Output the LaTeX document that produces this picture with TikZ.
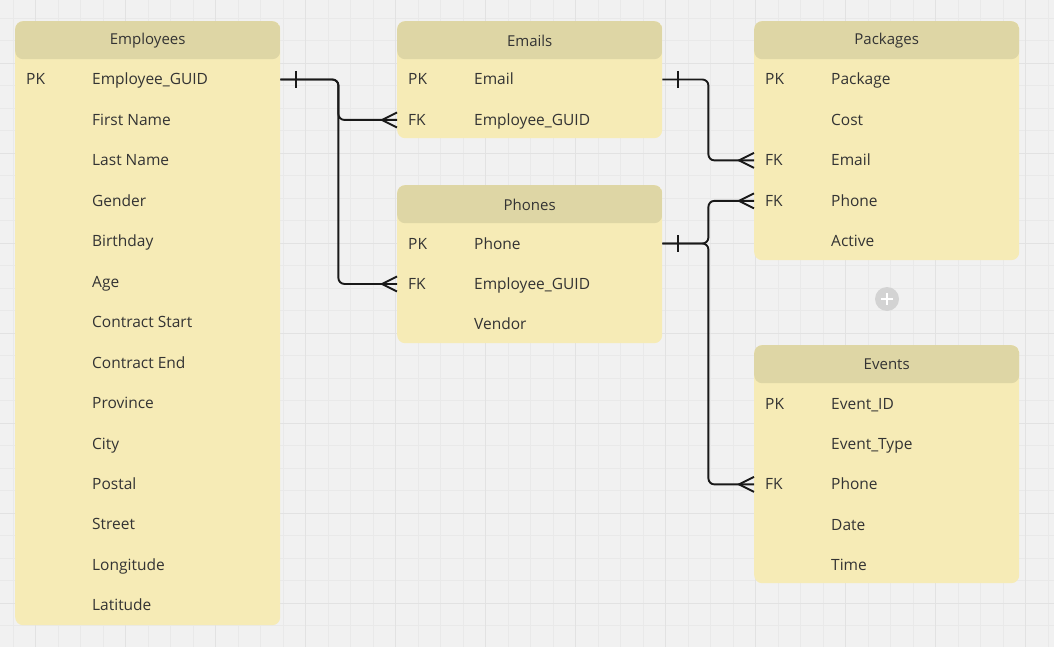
\documentclass[tikz,border=0pt]{standalone}
\usepackage{fontspec}
\setmainfont{Open Sans}
\usetikzlibrary{positioning}

\definecolor{canvas}{HTML}{F1F1F1}
\definecolor{gridminor}{HTML}{E9E9E9}
\definecolor{gridmajor}{HTML}{E2E2E2}
\definecolor{tblbody}{HTML}{F6EBB6}
\definecolor{tblhead}{HTML}{DED6A5}
\definecolor{ink}{HTML}{333333}
\definecolor{plusgrey}{HTML}{D3D3D3}

\begin{document}
\begin{tikzpicture}[x=1pt,y=-1pt,
  every node/.style={font=\fontsize{15.5}{18}\selectfont, text=ink},
  tbl/.style={fill=tblbody, rounded corners=8pt, minimum width=265pt, anchor=north west, inner sep=0pt,
    path picture={\fill[tblhead] (path picture bounding box.north west) rectangle ([yshift=-38pt]path picture bounding box.north east);}},
  title/.style={font=\fontsize{15}{18}\selectfont},
  attr/.style={anchor=west, inner sep=0pt, text height=11pt, text depth=0pt},
  conn/.style={draw=black!90, line width=1.9pt, rounded corners=6pt},
  one/.pic={\draw[conn] (0,-8.5) -- (0,8.5);},
  many/.pic={\draw[conn, rounded corners=0pt] (0,-7.5) -- (-15,0) -- (0,7.5);}
  ]
  \useasboundingbox (0,0) rectangle (1054,647);
  \fill[canvas] (0,0) rectangle (1054,647);
  % grid
  \foreach \gx in {13,35.5,...,1054} \draw[gridminor, line width=0.7pt] (\gx,0) -- (\gx,647);
  \foreach \gy in {18,40.5,...,647} \draw[gridminor, line width=0.7pt] (0,\gy) -- (1054,\gy);
  \foreach \gx in {35.5,125.5,...,1054} \draw[gridmajor, line width=0.9pt] (\gx,0) -- (\gx,647);
  \foreach \gy in {63,153,...,647} \draw[gridmajor, line width=0.9pt] (0,\gy) -- (1054,\gy);

  % tables
  \node[tbl, minimum height=604pt] (emp) at (15,21) {};
  \node[tbl, minimum height=117pt] (eml) at (397,21) {};
  \node[tbl, minimum height=158pt] (phn) at (397,185) {};
  \node[tbl, minimum height=239pt] (pkg) at (754,21) {};
  \node[tbl, minimum height=238pt] (evt) at (754,345) {};

  \node[title] at ([yshift=-19.5pt]emp.north) {Employees};
  \node[title] at ([yshift=-19.5pt]eml.north) {Emails};
  \node[title] at ([yshift=-19.5pt]phn.north) {Phones};
  \node[title] at ([yshift=-19.5pt]pkg.north) {Packages};
  \node[title] at ([yshift=-19.5pt]evt.north) {Events};

  \foreach \a [count=\i from 0] in {Employee\_GUID, First Name, Last Name, Gender, Birthday, Age,
      Contract Start, Contract End, Province, City, Postal, Street, Longitude, Latitude}
    \node[attr] (emp-\i) at ([xshift=77pt,yshift={-58.5pt-\i*40.45pt}]emp.north west) {\a};
  \foreach \a [count=\i from 0] in {Email, Employee\_GUID}
    \node[attr] (eml-\i) at ([xshift=77pt,yshift={-58.5pt-\i*40.45pt}]eml.north west) {\a};
  \foreach \a [count=\i from 0] in {Phone, Employee\_GUID, Vendor}
    \node[attr] (phn-\i) at ([xshift=77pt,yshift={-58.5pt-\i*40.45pt}]phn.north west) {\a};
  \foreach \a [count=\i from 0] in {Package, Cost, Email, Phone, Active}
    \node[attr] (pkg-\i) at ([xshift=77pt,yshift={-58.5pt-\i*40.45pt}]pkg.north west) {\a};
  \foreach \a [count=\i from 0] in {Event\_ID, Event\_Type, Phone, Date, Time}
    \node[attr] (evt-\i) at ([xshift=77pt,yshift={-58.5pt-\i*40.45pt}]evt.north west) {\a};

  % keys
  \node[attr, xshift=11pt] at (emp-0 -| emp.west) {PK};
  \node[attr, xshift=11pt] at (eml-0 -| eml.west) {PK};
  \node[attr, xshift=11pt] at (eml-1 -| eml.west) {FK};
  \node[attr, xshift=11pt] at (phn-0 -| phn.west) {PK};
  \node[attr, xshift=11pt] at (phn-1 -| phn.west) {FK};
  \node[attr, xshift=11pt] at (pkg-0 -| pkg.west) {PK};
  \node[attr, xshift=11pt] at (pkg-2 -| pkg.west) {FK};
  \node[attr, xshift=11pt] at (pkg-3 -| pkg.west) {FK};
  \node[attr, xshift=11pt] at (evt-0 -| evt.west) {PK};
  \node[attr, xshift=11pt] at (evt-2 -| evt.west) {FK};

  % relations
  \draw[conn] (emp-0 -| emp.east) -- ++(58,0) |- (eml-1 -| eml.west);
  \draw[conn] (emp-0 -| emp.east) -- ++(58,0) |- (phn-1 -| phn.west);
  \draw[conn] (eml-0 -| eml.east) -- ++(46,0) |- (pkg-2 -| pkg.west);
  \draw[conn] (phn-0 -| phn.east) -- ++(46,0) |- (pkg-3 -| pkg.west);
  \draw[conn] (phn-0 -| phn.east) -- ++(46,0) |- (evt-2 -| evt.west);

  \pic[xshift=16pt] at (emp-0 -| emp.east) {one};
  \pic[xshift=16pt] at (eml-0 -| eml.east) {one};
  \pic[xshift=16pt] at (phn-0 -| phn.east) {one};
  \pic at (eml-1 -| eml.west) {many};
  \pic at (phn-1 -| phn.west) {many};
  \pic at (pkg-2 -| pkg.west) {many};
  \pic at (pkg-3 -| pkg.west) {many};
  \pic at (evt-2 -| evt.west) {many};

  % add button
  \node[circle, fill=plusgrey, minimum size=24pt, inner sep=0pt] (addbtn) at (887,299) {};
  \draw[white, line width=1.3pt] (addbtn.center) +(-6,0) -- +(6,0) +(0,-6) -- +(0,6);
\end{tikzpicture}
\end{document}
